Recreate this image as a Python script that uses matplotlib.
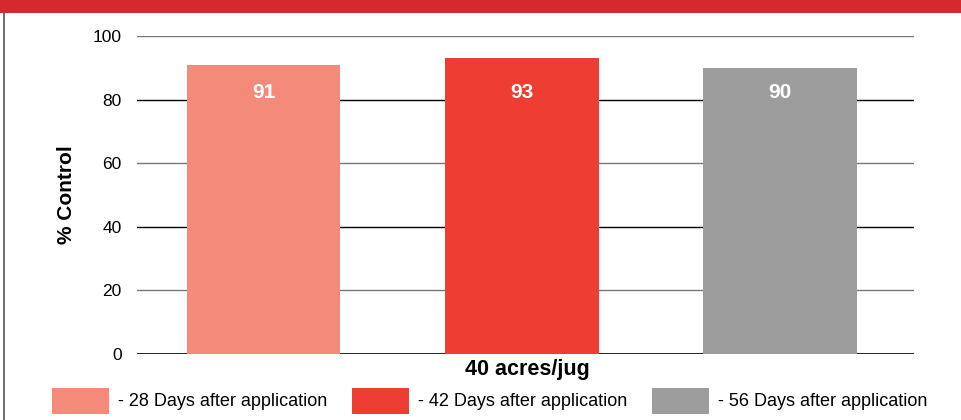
import numpy as np
from matplotlib import pyplot as plt
from matplotlib.patches import Rectangle

plt.rcParams['font.family'] = ['Liberation Sans', 'DejaVu Sans']

# chart data
group_label = '40 acres/jug'
series_names = ['- 28 Days after application',
                '- 42 Days after application',
                '- 56 Days after application']
control_values = [91, 93, 90]
bar_colors = ['#F48B7A', '#EE3E34', '#9D9D9E']
yticks = [0, 20, 40, 60, 80, 100]

fig = plt.figure(figsize=(9.62, 4.2), dpi=100)

# red banner across the top and thin left border
fig.patches.append(Rectangle((0, 1 - 13 / 420), 1, 13 / 420, transform=fig.transFigure,
                             facecolor='#D42A2F', edgecolor='none', zorder=0))
fig.lines.append(plt.Line2D([3.5 / 962, 3.5 / 962], [0, 1 - 13 / 420], transform=fig.transFigure,
                            color='#555555', linewidth=1.2))

ax = fig.add_axes([137 / 962, 1 - 354 / 420, 777 / 962, 318 / 420])

x = np.arange(len(control_values))
bars = ax.bar(x, control_values, width=0.596, color=bar_colors, zorder=3)
for b, v in zip(bars, control_values):
    ax.text(b.get_x() + b.get_width() / 2, 82.3, str(v), ha='center', va='center',
            color='white', fontsize=15, fontweight='bold', zorder=4)

# alternating gray / black grid lines
for i, t in enumerate(yticks):
    c = 'black' if i % 2 == 0 else '#777777'
    lw = 1.2 if i == 0 else 1.0
    ax.axhline(t, color=c, linewidth=lw, zorder=2)

ax.set_xlim(-0.49, 2.52)
ax.set_ylim(0, 100)
ax.set_yticks(yticks)
ax.set_yticklabels([str(t) for t in yticks], fontsize=12.5)
ax.tick_params(axis='y', length=0, pad=11)
ax.set_xticks([])
for s in ax.spines.values():
    s.set_visible(False)

ax.set_ylabel('% Control', fontsize=15, fontweight='bold')
ax.yaxis.set_label_coords(-0.078, 0.5)
fig.text(527 / 962, 1 - 369 / 420, group_label, ha='center', va='center',
         fontsize=15.5, fontweight='bold')

# legend drawn as boxes with text
box_left = [52, 352, 652]
for xl, name, col in zip(box_left, series_names, bar_colors):
    fig.patches.append(Rectangle((xl / 962, 1 - 414 / 420), 57 / 962, 26 / 420,
                                 transform=fig.transFigure, facecolor=col, edgecolor='none'))
    fig.text((xl + 66) / 962, 1 - 401 / 420, name, ha='left', va='center', fontsize=13)

fig.savefig('out.png', dpi=100)
